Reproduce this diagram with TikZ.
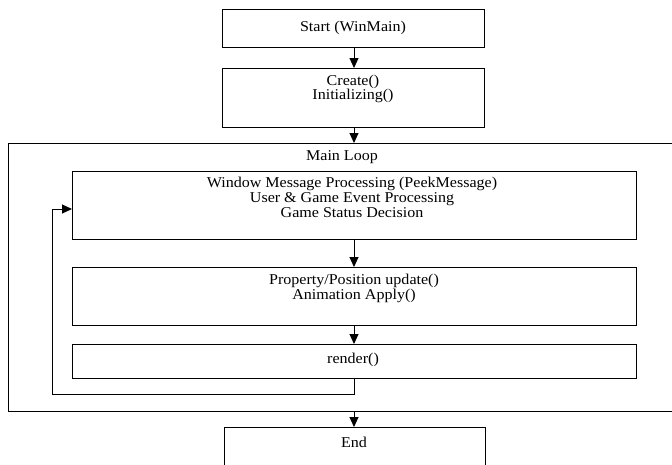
\documentclass[tikz,border=0pt]{standalone}
\usepackage{fontspec}
\setmainfont{Liberation Serif}[FakeStretch=1.07]
\usetikzlibrary{arrows.meta}
\begin{document}
\begin{tikzpicture}[x=1pt,y=-1pt,
  box/.style={draw=black,line width=1pt,inner sep=0pt},
  txt/.style={inner sep=0pt,align=center,font=\fontsize{15}{15}\selectfont},
  flow/.style={draw=black,line width=1pt,-{Triangle[width=9pt,length=10pt]}},
  line/.style={draw=black,line width=1pt}]
\useasboundingbox (0,0) rectangle (672,464);
\clip (0,0) rectangle (672,464);
% boxes
\node[box,anchor=north west,minimum width=262pt,minimum height=38pt] (start) at (222,9) {};
\node[box,anchor=north west,minimum width=262pt,minimum height=59pt] (create) at (222,68) {};
\node[box,anchor=north west,minimum width=680pt,minimum height=268pt] (loop) at (8,143) {};
\node[box,anchor=north west,minimum width=564pt,minimum height=68pt] (b1) at (72,171) {};
\node[box,anchor=north west,minimum width=564pt,minimum height=58pt] (b2) at (72,267) {};
\node[box,anchor=north west,minimum width=564pt,minimum height=34pt] (b3) at (72,344) {};
\node[box,anchor=north west,minimum width=261pt,minimum height=50pt] (end) at (224,427) {};
% texts
\node[txt] (tstart) at (353,28) {Start (WinMain)};
\node[txt,font=\fontsize{15}{14}\selectfont] (tcreate) at (353,89) {Create()\\Initializing()};
\node[txt] (tloop) at (342,157) {Main Loop};
\node[txt] (tb1) at (352,197) {Window Message Processing (PeekMessage)\\User \& Game Event Processing\\Game Status Decision};
\node[txt] (tb2) at (354,288) {Property/Position update()\\Animation Apply()};
\node[txt] (tb3) at (353,360) {render()};
\node[txt] (tend) at (354,442) {End};
% connectors
\coordinate (ax) at (354,0);
\draw[flow] (start.south -| ax) -- (create.north -| ax);
\draw[flow] (create.south -| ax) -- (loop.north -| ax);
\draw[flow] (b1.south -| ax) -- (b2.north -| ax);
\draw[flow] (b2.south -| ax) -- (b3.north -| ax);
\draw[flow] (loop.south -| ax) -- (end.north -| ax);
\coordinate (fb1) at (354,394);
\coordinate (fb2) at (52,394);
\coordinate (fb3) at (52,209);
\draw[flow] (b3.south -| ax) -- (fb1) -- (fb2) -- (fb3) -- (fb3 -| b1.west);
\end{tikzpicture}
\end{document}
